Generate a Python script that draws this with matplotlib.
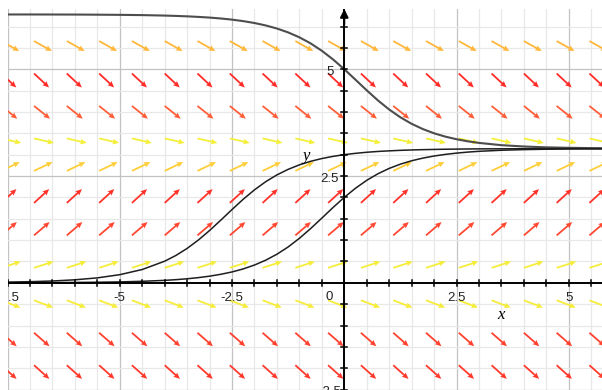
import numpy as np
import matplotlib.pyplot as plt
from matplotlib.colors import LinearSegmentedColormap

# ---------------- data
# solution curves (denser samples where they bend)
curve_x = [-7.5, -7.0, -6.5, -6.0, -5.5, -5.0, -4.5, -4.0, -3.75, -3.5, -3.25, -3.0,
           -2.75, -2.5, -2.25, -2.0, -1.75, -1.5, -1.25, -1.0, -0.75, -0.5, -0.25,
           0.0, 0.25, 0.5, 0.75, 1.0, 1.25, 1.5, 1.75, 2.0, 2.25, 2.5, 2.75, 3.0,
           3.5, 4.0, 4.5, 5.0, 5.5, 6.0]
curve_top = [6.282, 6.282, 6.281, 6.280, 6.277, 6.273, 6.267, 6.256, 6.248, 6.238,
             6.225, 6.209, 6.188, 6.161, 6.126, 6.082, 6.025, 5.953, 5.862, 5.747,
             5.605, 5.432, 5.229, 5.000, 4.754, 4.506, 4.269, 4.057, 3.874, 3.722,
             3.599, 3.500, 3.422, 3.361, 3.312, 3.275, 3.222, 3.191, 3.171, 3.160,
             3.153, 3.148]
curve_mid = [0.016, 0.026, 0.042, 0.070, 0.115, 0.190, 0.311, 0.506, 0.640, 0.805,
             1.001, 1.224, 1.467, 1.716, 1.957, 2.176, 2.367, 2.526, 2.656, 2.761,
             2.844, 2.909, 2.960, 3.000, 3.031, 3.056, 3.075, 3.089, 3.101, 3.110,
             3.117, 3.122, 3.127, 3.130, 3.133, 3.135, 3.137, 3.139, 3.140, 3.141,
             3.141, 3.141]
curve_low = [0.002, 0.003, 0.005, 0.008, 0.013, 0.021, 0.035, 0.057, 0.073, 0.094,
             0.121, 0.155, 0.199, 0.254, 0.325, 0.416, 0.529, 0.669, 0.839, 1.041,
             1.269, 1.514, 1.763, 2.000, 2.214, 2.399, 2.553, 2.678, 2.778, 2.857,
             2.919, 2.968, 3.006, 3.036, 3.060, 3.078, 3.103, 3.118, 3.127, 3.133,
             3.136, 3.138]

# slope field: arrow tails and the slope on each row
arrow_x = [-7.64, -6.91, -6.18, -5.46, -4.73, -4.00, -3.27, -2.55, -1.82, -1.09,
           -0.36, 0.37, 1.09, 1.82, 2.55, 3.28, 4.00, 4.73, 5.46]
arrow_y = [5.66, 4.90, 4.14, 3.38, 2.62, 1.87, 1.11, 0.35, -0.41, -1.17, -1.93]
row_slope = [-0.59, -0.98, -0.84, -0.24, 0.50, 0.96, 0.90, 0.34, -0.40, -0.92, -0.94]

xtick_vals = [-7.5, -5, -2.5, 2.5, 5]
ytick_vals = [5, 2.5, -2.5]

# ---------------- figure
fig = plt.figure(figsize=(6.02, 3.90), dpi=100)
ax = fig.add_axes([8 / 602, 0, 594 / 602, 381 / 390])
ax.set_xlim(-7.49, 5.74)
ax.set_ylim(-2.51, 6.41)
ax.set_axis_off()

# pixels per data unit
o = ax.transData.transform((0, 0))
sx, sy = ax.transData.transform((1, 1)) - o

# grid
for g in np.arange(-7.5, 6.0, 0.5):
    major = abs(g / 2.5 - round(g / 2.5)) < 1e-9 and g != 0
    ax.axvline(g, color='#c2c2c2' if major else '#e8e8e8', lw=0.9, zorder=0)
for g in np.arange(-2.5, 6.5, 0.5):
    major = abs(g / 2.5 - round(g / 2.5)) < 1e-9 and g != 0
    ax.axhline(g, color='#c2c2c2' if major else '#e8e8e8', lw=0.9, zorder=0)

# slope field arrows (fixed length on screen)
X, Y = np.meshgrid(arrow_x, arrow_y)
S = np.repeat(np.array(row_slope)[:, None], len(arrow_x), axis=1)
dxp = np.full_like(S, sx)
dyp = S * sy
n = np.hypot(dxp, dyp)
L = 20.5
U, V = L * dxp / n, L * dyp / n

cmap = LinearSegmentedColormap.from_list('slope', [
    (0.0, '#f2f23a'), (0.42, '#f6ec3a'), (0.52, '#ffc83a'),
    (0.62, '#ffb03a'), (0.86, '#ff5838'), (1.0, '#ff2424')])
cols = cmap(np.abs(S).ravel())
ax.quiver(X, Y, U, V, color=cols, angles='uv', scale_units='dots', scale=1,
          units='dots', width=1.8, headwidth=3.2, headlength=3.6,
          headaxislength=3.2, pivot='tail', zorder=2)

# axes lines + ticks
ax.axhline(0, color='black', lw=1.4, zorder=4)
ax.axvline(0, color='black', lw=1.4, zorder=4)
hx = 3.0 / sy
hy = 3.0 / sx
for t in np.arange(-7.5, 6.0, 0.5):
    ax.plot([t, t], [-hx, hx], color='black', lw=1.1, zorder=4)
for t in np.arange(-2.5, 6.5, 0.5):
    ax.plot([-hy, hy], [t, t], color='black', lw=1.1, zorder=4)
ax.annotate('', xy=(0, 6.41), xytext=(0, 6.05), annotation_clip=False,
            arrowprops=dict(arrowstyle='-|>', color='black', lw=1.4,
                            mutation_scale=12, shrinkA=0, shrinkB=0), zorder=5)

# solution curves
ax.plot(curve_x, curve_top, color='#4d4d4d', lw=1.5, zorder=3,
        solid_joinstyle='round')
ax.plot(curve_x, curve_mid, color='#1e1e1e', lw=1.1, zorder=3,
        solid_joinstyle='round')
ax.plot(curve_x, curve_low, color='#1e1e1e', lw=1.1, zorder=3,
        solid_joinstyle='round')

# tick labels
lab = dict(fontsize=9.5, family='Liberation Sans', color='#222222',
           ha='center', va='center', clip_on=True, zorder=6)
for v in xtick_vals:
    ax.text(v, -0.35, f'{v:g}', **lab)
ax.text(-0.33, -0.33, '0', **lab)
for v in ytick_vals:
    ax.text(-0.32, v - 0.06, f'{v:g}', **lab)

ax.text(3.48, -0.75, 'x', fontsize=12, family='Liberation Serif',
        style='italic', ha='center', va='center', zorder=6)
ax.text(-0.86, 2.97, 'y', fontsize=12, family='Liberation Serif',
        style='italic', ha='center', va='center', zorder=6)

fig.savefig('out.png', dpi=100)
